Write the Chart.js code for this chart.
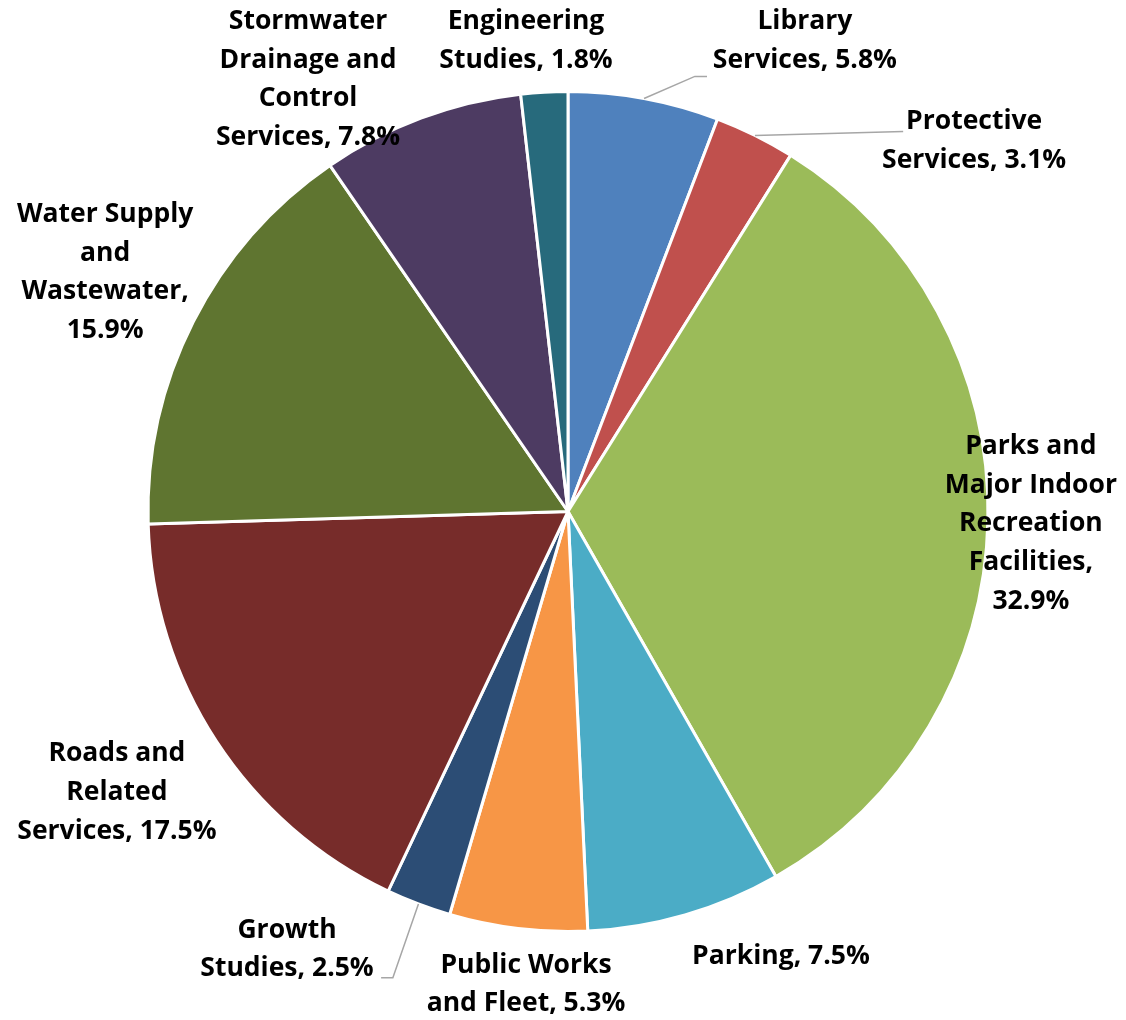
<!DOCTYPE html>
<html>
<head>
<meta charset="utf-8">
<script src="https://cdn.jsdelivr.net/npm/chart.js@4.4.1/dist/chart.umd.min.js"></script>
<style>
  html, body { margin: 0; padding: 0; background: #fff; }
  #wrap { width: 1126px; height: 1020px; }
</style>
</head>
<body>
<div id="wrap"><canvas id="myChart"></canvas></div>
<script>
const categories = [
  ['Library', 'Services, 5.8%'],
  ['Protective', 'Services, 3.1%'],
  ['Parks and', 'Major Indoor', 'Recreation', 'Facilities,', '32.9%'],
  ['Parking, 7.5%'],
  ['Public Works', 'and Fleet, 5.3%'],
  ['Growth', 'Studies, 2.5%'],
  ['Roads and', 'Related', 'Services, 17.5%'],
  ['Water Supply', 'and', 'Wastewater,', '15.9%'],
  ['Stormwater', 'Drainage and', 'Control', 'Services, 7.8%'],
  ['Engineering', 'Studies, 1.8%']
];
const shares = [5.8, 3.1, 32.9, 7.5, 5.3, 2.5, 17.5, 15.9, 7.8, 1.8];
const sliceColors = ['#4f81bd', '#c0504d', '#9bbb59', '#4bacc6', '#f79646',
  '#2c4d75', '#772c2a', '#5f7530', '#4d3b62', '#276a7c'];

// label centres, in units of the pie radius, from the pie centre
const labelSpots = [
  [0.564, -1.121], [0.967, -0.883], [1.102, 0.029], [0.507, 1.060], [-0.100, 1.126],
  [-0.669, 1.043], [-1.074, 0.669], [-1.102, -0.569], [-0.619, -1.029], [-0.100, -1.121]
];
// leader lines: from the slice edge through these points (radius units)
const leaders = {
  0: [[0.302, -1.036], [0.331, -1.036]],
  1: [[0.798, -0.905]],
  5: [[-0.417, 1.110], [-0.445, 1.110]]
};

const ctx = document.getElementById('myChart');

const labelPlugin = {
  id: 'outLabels',
  afterDatasetsDraw(chart) {
    const c = chart.ctx;
    const meta = chart.getDatasetMeta(0);
    meta.data.forEach((arc, i) => {
      const r = arc.outerRadius;
      const mid = (arc.startAngle + arc.endAngle) / 2;
      if (leaders[i]) {
        c.save();
        c.strokeStyle = '#a6a6a6';
        c.lineWidth = 1.5;
        c.beginPath();
        c.moveTo(arc.x + Math.cos(mid) * r, arc.y + Math.sin(mid) * r);
        leaders[i].forEach(p => c.lineTo(arc.x + p[0] * r, arc.y + p[1] * r));
        c.stroke();
        c.restore();
      }
      const lines = categories[i];
      const lh = 38.7;
      const cx = arc.x + labelSpots[i][0] * r;
      const cy = arc.y + labelSpots[i][1] * r;
      c.save();
      c.font = 'bold 26.5px "Open Sans"';
      c.fillStyle = '#000';
      c.textAlign = 'center';
      c.textBaseline = 'middle';
      lines.forEach((t, k) => {
        c.fillText(t, cx, cy + (k - (lines.length - 1) / 2) * lh);
      });
      c.restore();
    });
  }
};

let chart = new Chart(ctx, {
  type: 'pie',
  data: {
    labels: categories.map(l => l.join(' ')),
    datasets: [{
      data: shares,
      backgroundColor: sliceColors,
      borderColor: '#ffffff',
      borderWidth: 3
    }]
  },
  options: {
    responsive: true,
    maintainAspectRatio: false,
    animation: false,
    layout: { padding: { top: 90, bottom: 87, left: 10, right: 0 } },
    plugins: {
      legend: { display: false },
      tooltip: { enabled: false }
    }
  },
  plugins: [labelPlugin]
});
</script>
</body>
</html>
